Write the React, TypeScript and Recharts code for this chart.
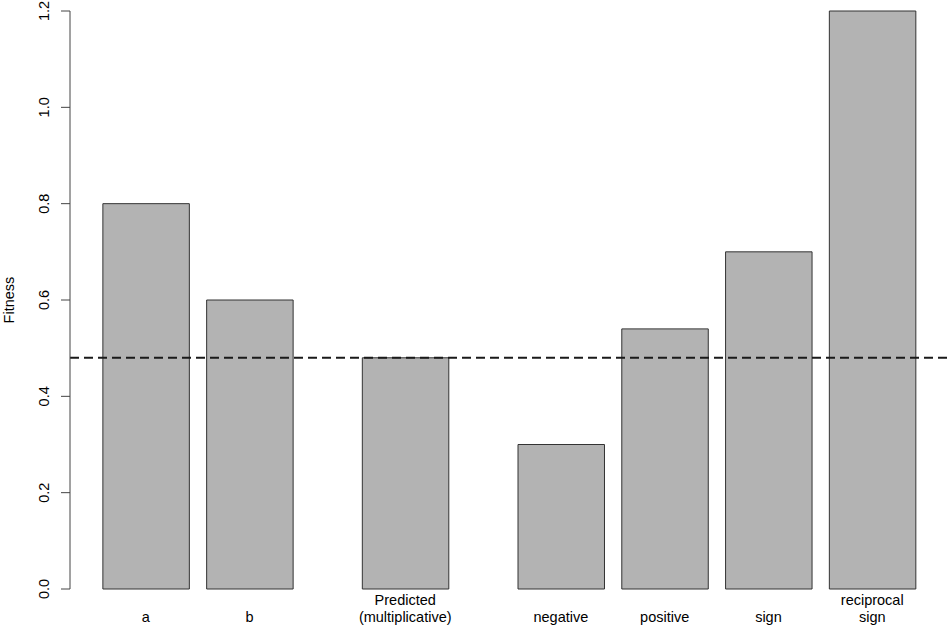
import { Bar, ComposedChart, ReferenceLine, XAxis, YAxis } from "recharts";

// bar labels, fitness values, and which group each bar sits in
const categories = ["a", "b", "Predicted\n(multiplicative)", "negative", "positive", "sign", "reciprocal\nsign"];
const fitness = [0.8, 0.6, 0.48, 0.3, 0.54, 0.7, 1.2];
const groups = [0, 0, 1, 2, 2, 2, 2];
const predicted = 0.48;
const yTicks = [0, 0.2, 0.4, 0.6, 0.8, 1.0, 1.2];

const W = 950;
const H = 627;
const LEFT = 70;
const RIGHT = 2;
const TOP = 11;
const XAXIS_H = 38;
const FONT = "'Liberation Sans', Arial, Helvetica, sans-serif";

// R barplot style layout: width 1, space 0.2 inside a group, 0.8 between groups
const lefts: number[] = [];
let cursor = 0;
groups.forEach((g, i) => {
  cursor += i > 0 && g !== groups[i - 1] ? 0.8 : 0.2;
  lefts.push(cursor);
  cursor += 1;
});
const centers = lefts.map((l) => l + 0.5);
const span = cursor - lefts[0];
const xMin = lefts[0] - span * 0.04;
const xMax = cursor + span * 0.04;
const pxPerUnit = (W - LEFT - RIGHT) / (xMax - xMin);

const data = categories.map((name, i) => ({ name, x: centers[i], value: fitness[i] }));

function XTick(props: any) {
  const { x, payload } = props;
  const i = centers.findIndex((c) => Math.abs(c - payload.value) < 1e-6);
  if (i < 0) return null;
  const lines = categories[i].split("\n");
  return (
    <g>
      {lines.map((line, k) => (
        <text
          key={k}
          x={x}
          y={617 - (lines.length - 1 - k) * 17}
          textAnchor="middle"
          dominantBaseline="central"
          fontFamily={FONT}
          fontSize={14.5}
          fill="#000"
        >
          {line}
        </text>
      ))}
    </g>
  );
}

function YTick(props: any) {
  const { y, payload } = props;
  return (
    <text
      x={44}
      y={y}
      transform={`rotate(-90, 44, ${y})`}
      textAnchor="middle"
      dominantBaseline="central"
      fontFamily={FONT}
      fontSize={14.5}
      fill="#000"
    >
      {Number(payload.value).toFixed(1)}
    </text>
  );
}

export default function App() {
  return (
    <div style={{ position: "absolute", left: 0, top: 0, width: W, height: H, background: "#fff" }}>
      <ComposedChart width={W} height={H} data={data} margin={{ top: TOP, right: RIGHT, bottom: 0, left: 0 }}>
        <XAxis
          dataKey="x"
          type="number"
          domain={[xMin, xMax]}
          ticks={centers}
          interval={0}
          allowDataOverflow
          axisLine={false}
          tickLine={false}
          height={XAXIS_H}
          tick={<XTick />}
        />
        <YAxis
          type="number"
          domain={[0, 1.2]}
          ticks={yTicks}
          interval={0}
          width={LEFT}
          tickSize={9}
          axisLine={{ stroke: "#444" }}
          tickLine={{ stroke: "#444" }}
          tick={<YTick />}
          label={{
            content: () => (
              <text
                x={9}
                y={300}
                transform="rotate(-90, 9, 300)"
                textAnchor="middle"
                dominantBaseline="central"
                fontFamily={FONT}
                fontSize={14.5}
                fill="#000"
              >
                Fitness
              </text>
            ),
          }}
        />
        <Bar
          dataKey="value"
          barSize={pxPerUnit}
          fill="#b3b3b3"
          stroke="#333"
          strokeWidth={1}
          isAnimationActive={false}
        />
        <ReferenceLine y={predicted} stroke="#1a1a1a" strokeWidth={2} strokeDasharray="9 5" />
      </ComposedChart>
    </div>
  );
}
